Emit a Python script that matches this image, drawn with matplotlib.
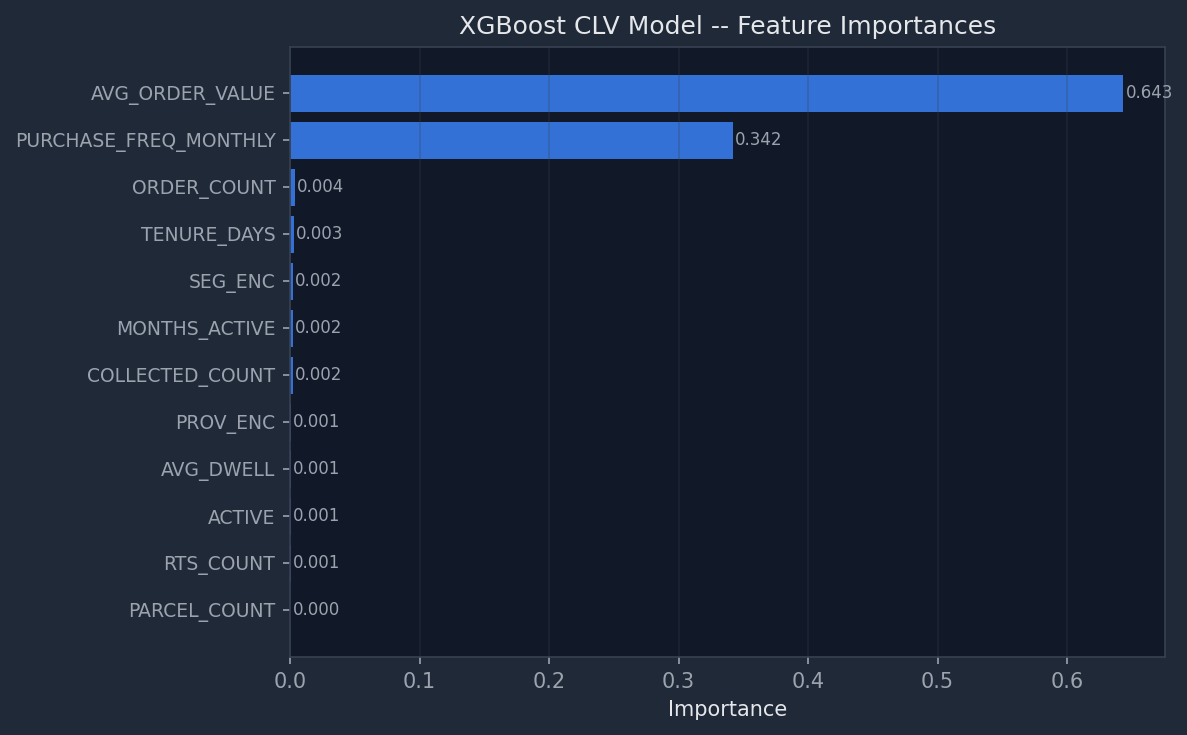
import matplotlib
matplotlib.use("Agg")
import matplotlib.pyplot as plt

# feature importances, top of chart first
features = [
    "AVG_ORDER_VALUE", "PURCHASE_FREQ_MONTHLY", "ORDER_COUNT", "TENURE_DAYS",
    "SEG_ENC", "MONTHS_ACTIVE", "COLLECTED_COUNT", "PROV_ENC",
    "AVG_DWELL", "ACTIVE", "RTS_COUNT", "PARCEL_COUNT",
]
importances = [
    0.6434, 0.3421, 0.0038, 0.0029,
    0.0023, 0.0022, 0.0021, 0.0010,
    0.0008, 0.0007, 0.0006, 0.0003,
]

BG = "#1f2937"
PANEL = "#111827"
EDGE = "#374151"
MUTED = "#9ca3af"
LIGHT = "#e5e7eb"

fig, ax = plt.subplots(figsize=(1187 / 150, 735 / 150), dpi=150)
fig.patch.set_facecolor(BG)
ax.set_facecolor(PANEL)
fig.subplots_adjust(left=0.2443, right=0.9815, top=0.9361, bottom=0.1061)

# reverse so the largest sits on top
bars = ax.barh(features[::-1], importances[::-1], color="#3b82f6", alpha=0.85)
ax.bar_label(bars, fmt="%.3f", padding=1, color=MUTED, fontsize=8)

ax.set_title("XGBoost CLV Model -- Feature Importances", color=LIGHT, fontsize=12)
ax.set_xlabel("Importance", color=LIGHT, fontsize=10)

ax.tick_params(axis="y", colors=MUTED, labelsize=9)
ax.tick_params(axis="x", colors=MUTED, labelsize=10)
for spine in ax.spines.values():
    spine.set_color(EDGE)

ax.grid(axis="x", color=EDGE, alpha=0.3, linewidth=0.8)

fig.savefig("out.png", dpi=150, facecolor=BG)
